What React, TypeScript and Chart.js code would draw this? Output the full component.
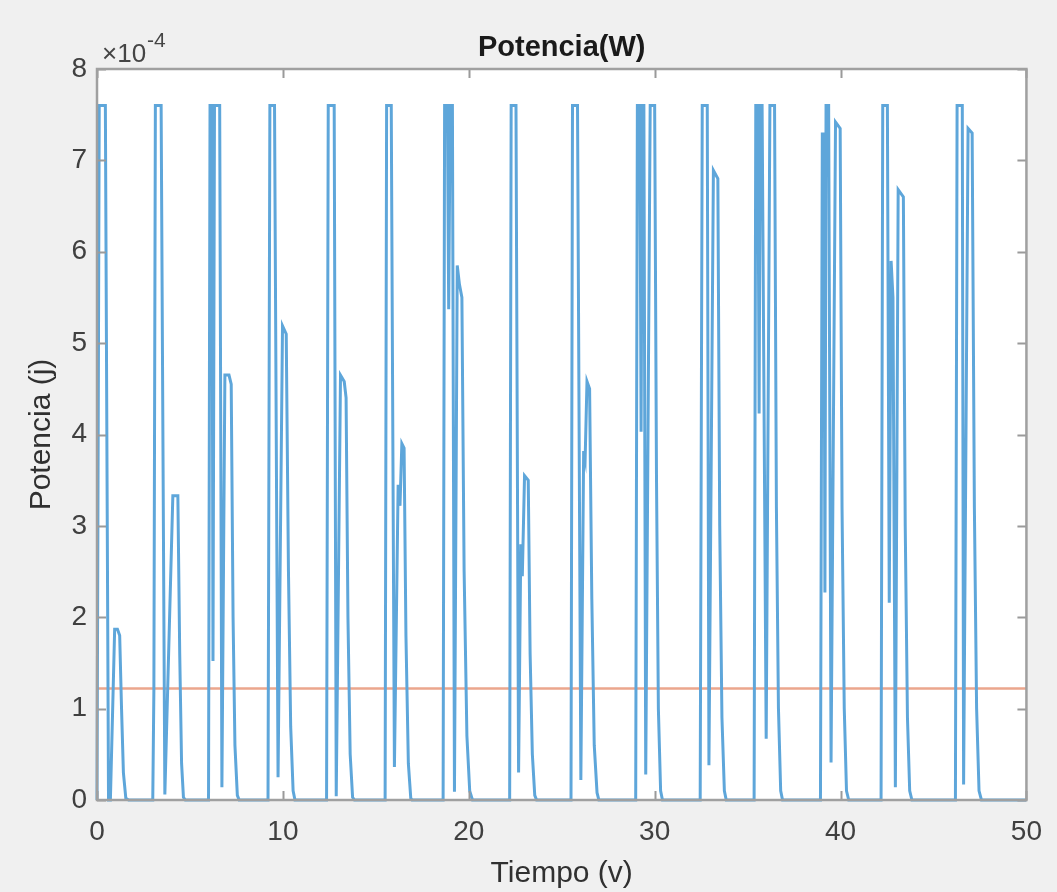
import React, { useEffect, useRef } from 'react';
import { Chart, registerables } from 'chart.js';

Chart.register(...registerables);

// Tiempo (v) samples
const tiempo: number[] = [
  0, 0.12, 0.45, 0.62, 0.72, 0.95, 1.1, 1.22, 1.32, 1.42, 1.55, 1.7,
  3.0, 3.06, 3.14, 3.45, 3.65, 4.08, 4.35, 4.45, 4.55, 4.65, 4.75,
  6.0, 6.08, 6.18, 6.24, 6.32, 6.6, 6.72, 6.88, 7.1, 7.22, 7.32, 7.42, 7.55, 7.65,
  9.2, 9.3, 9.55, 9.74, 9.98, 10.18, 10.3, 10.42, 10.55, 10.65,
  12.35, 12.44, 12.76, 12.87, 13.1, 13.3, 13.4, 13.5, 13.62, 13.75, 13.85,
  15.5, 15.58, 15.83, 16.0, 16.2, 16.3, 16.4, 16.52, 16.62, 16.75, 16.88, 16.95,
  18.62, 18.7, 18.85, 18.92, 19.0, 19.12, 19.23, 19.38, 19.5, 19.63, 19.75, 19.9, 20.05, 20.2,
  22.2, 22.28, 22.54, 22.68, 22.8, 22.88, 23.0, 23.2, 23.3, 23.42, 23.55, 23.65,
  25.5, 25.58, 25.85, 26.03, 26.18, 26.26, 26.36, 26.5, 26.62, 26.75, 26.9, 27.0,
  28.98, 29.07, 29.2, 29.27, 29.34, 29.42, 29.52, 29.76, 30.0, 30.1, 30.2, 30.32, 30.42,
  32.45, 32.56, 32.83, 32.92, 33.16, 33.4, 33.5, 33.62, 33.75, 33.85,
  35.35, 35.44, 35.55, 35.62, 35.68, 35.78, 36.0, 36.2, 36.45, 36.55, 36.66, 36.78, 36.88,
  38.92, 39.02, 39.1, 39.16, 39.22, 39.36, 39.49, 39.73, 39.98, 40.08, 40.2, 40.32, 40.44,
  42.18, 42.27, 42.52, 42.62, 42.72, 42.82, 42.95, 43.1, 43.38, 43.48, 43.6, 43.72, 43.84,
  46.18, 46.27, 46.55, 46.62, 46.86, 47.08, 47.2, 47.32, 47.45, 47.58,
  50,
];

// Potencia (j), in units of 1e-4
const potencia: number[] = [
  0, 7.6, 7.6, 0.0, 0.0, 1.87, 1.87, 1.8, 1.0, 0.3, 0.02, 0,
  0, 1.2, 7.6, 7.6, 0.06, 3.33, 3.33, 1.6, 0.4, 0.03, 0,
  0, 7.6, 7.6, 1.52, 7.6, 7.6, 0.14, 4.65, 4.65, 4.55, 2.0, 0.6, 0.05, 0,
  0, 7.6, 7.6, 0.25, 5.19, 5.1, 2.5, 0.8, 0.1, 0,
  0, 7.6, 7.6, 0.04, 4.65, 4.58, 4.4, 2.0, 0.5, 0.03, 0,
  0, 7.6, 7.6, 0.36, 3.45, 3.22, 3.9, 3.85, 1.8, 0.4, 0.02, 0,
  0, 7.6, 7.6, 5.37, 7.6, 7.6, 0.09, 5.85, 5.64, 5.5, 2.5, 0.7, 0.1, 0,
  0, 7.6, 7.6, 0.3, 2.8, 2.45, 3.55, 3.5, 1.6, 0.5, 0.05, 0,
  0, 7.6, 7.6, 0.22, 3.82, 3.73, 4.58, 4.5, 2.2, 0.6, 0.08, 0,
  0, 7.6, 7.6, 4.03, 7.6, 7.6, 0.28, 7.6, 7.6, 3.5, 1.0, 0.1, 0,
  0, 7.6, 7.6, 0.38, 6.89, 6.8, 3.0, 0.9, 0.1, 0,
  0, 7.6, 7.6, 4.23, 7.6, 7.6, 0.67, 7.6, 7.6, 3.2, 1.0, 0.1, 0,
  0, 7.29, 7.29, 2.27, 7.6, 7.6, 0.41, 7.42, 7.35, 3.2, 1.0, 0.1, 0,
  0, 7.6, 7.6, 2.16, 5.9, 5.5, 0.14, 6.68, 6.6, 3.0, 0.9, 0.1, 0,
  0, 7.6, 7.6, 0.17, 7.35, 7.3, 3.2, 1.0, 0.1, 0,
  0,
];

// Umbral (horizontal line), in units of 1e-4
const umbralTiempo: number[] = [0, 50];
const umbralPotencia: number[] = [1.22, 1.22];

const xTickValues: number[] = [0, 10, 20, 30, 40, 50];
const yTickValues: number[] = [0, 1, 2, 3, 4, 5, 6, 7, 8];

const titulo = 'Potencia(W)';
const tituloX = 'Tiempo (v)';
const tituloY = 'Potencia (j)';
const exponenteBase = '\u00d710';
const exponente = '-4';

const FONT = "'Liberation Sans', Arial, Helvetica, sans-serif";

const framePlugin = {
  id: 'matlabFrame',
  beforeDraw(chart: any) {
    const { ctx, chartArea: a, width, height } = chart;
    ctx.save();
    ctx.fillStyle = '#f0f0f0';
    ctx.fillRect(0, 0, width, height);
    ctx.fillStyle = '#ffffff';
    ctx.fillRect(a.left, a.top, a.right - a.left, a.bottom - a.top);
    ctx.restore();
  },
  afterDatasetsDraw(chart: any) {
    const { ctx, chartArea: a, scales } = chart;
    const tl = 9;
    ctx.save();
    ctx.strokeStyle = '#9a9a9a';
    ctx.lineWidth = 2;
    ctx.beginPath();
    xTickValues.forEach((v) => {
      const px = Math.round(scales.x.getPixelForValue(v)) + 0.5;
      ctx.moveTo(px, a.bottom);
      ctx.lineTo(px, a.bottom - tl);
      ctx.moveTo(px, a.top);
      ctx.lineTo(px, a.top + tl);
    });
    yTickValues.forEach((v) => {
      const py = Math.round(scales.y.getPixelForValue(v)) + 0.5;
      ctx.moveTo(a.left, py);
      ctx.lineTo(a.left + tl, py);
      ctx.moveTo(a.right, py);
      ctx.lineTo(a.right - tl, py);
    });
    ctx.stroke();
    ctx.lineWidth = 2.5;
    ctx.strokeStyle = '#a0a0a0';
    ctx.strokeRect(a.left, a.top, a.right - a.left, a.bottom - a.top);
    ctx.restore();
  },
  afterDraw(chart: any) {
    const { ctx, chartArea: a } = chart;
    ctx.save();
    ctx.fillStyle = '#1a1a1a';
    ctx.font = `bold 29px ${FONT}`;
    ctx.textAlign = 'center';
    ctx.textBaseline = 'alphabetic';
    ctx.fillText(titulo, (a.left + a.right) / 2, 56);
    ctx.fillStyle = '#454545';
    ctx.textAlign = 'left';
    ctx.font = `26px ${FONT}`;
    ctx.fillText(exponenteBase, a.left + 5, 62);
    const w = ctx.measureText(exponenteBase).width;
    ctx.font = `21px ${FONT}`;
    ctx.fillText(exponente, a.left + 5 + w + 1, 47);
    ctx.restore();
  },
};

export default function App() {
  const canvasRef = useRef<HTMLCanvasElement | null>(null);

  useEffect(() => {
    document.body.style.margin = '0';
    document.body.style.background = '#f0f0f0';
    const canvas = canvasRef.current;
    if (!canvas) return;

    const serie = tiempo.map((t, i) => ({ x: t, y: potencia[i] }));
    const umbral = umbralTiempo.map((t, i) => ({ x: t, y: umbralPotencia[i] }));

    const chart = new Chart(canvas, {
      type: 'line',
      data: {
        datasets: [
          {
            label: 'Potencia',
            data: serie,
            borderColor: '#5ea6da',
            borderWidth: 3,
            pointRadius: 0,
            tension: 0,
            fill: false,
            clip: 4,
          },
          {
            label: 'Umbral',
            data: umbral,
            borderColor: '#eba68d',
            borderWidth: 2.5,
            pointRadius: 0,
            fill: false,
          },
        ],
      },
      options: {
        responsive: false,
        animation: false,
        devicePixelRatio: 1,
        events: [],
        layout: { padding: { top: 69, right: 29, left: 0, bottom: 0 } },
        plugins: {
          legend: { display: false },
          tooltip: { enabled: false },
          title: { display: false },
        },
        scales: {
          x: {
            type: 'linear',
            min: 0,
            max: 50,
            grid: { display: false, drawTicks: false },
            border: { display: false },
            afterFit: (s: any) => {
              s.height = 92;
            },
            afterBuildTicks: (s: any) => {
              s.ticks = xTickValues.map((v) => ({ value: v }));
            },
            ticks: {
              padding: 15,
              color: '#404040',
              font: { family: FONT, size: 28 },
              maxRotation: 0,
            },
            title: {
              display: true,
              text: tituloX,
              color: '#303030',
              font: { family: FONT, size: 30 },
              padding: { top: 0, bottom: 0 },
            },
          },
          y: {
            type: 'linear',
            min: 0,
            max: 8,
            grid: { display: false, drawTicks: false },
            border: { display: false },
            afterFit: (s: any) => {
              s.width = 97;
            },
            afterBuildTicks: (s: any) => {
              s.ticks = yTickValues.map((v) => ({ value: v }));
            },
            ticks: {
              padding: 10,
              color: '#404040',
              font: { family: FONT, size: 28 },
            },
            title: {
              display: true,
              text: tituloY,
              color: '#303030',
              font: { family: FONT, size: 30 },
              padding: { top: 24, bottom: 0 },
            },
          },
        },
      },
      plugins: [framePlugin],
    });

    return () => {
      chart.destroy();
    };
  }, []);

  return (
    <div style={{ width: 1057, height: 892, background: '#f0f0f0' }}>
      <canvas ref={canvasRef} width={1057} height={892} style={{ display: 'block' }} />
    </div>
  );
}
